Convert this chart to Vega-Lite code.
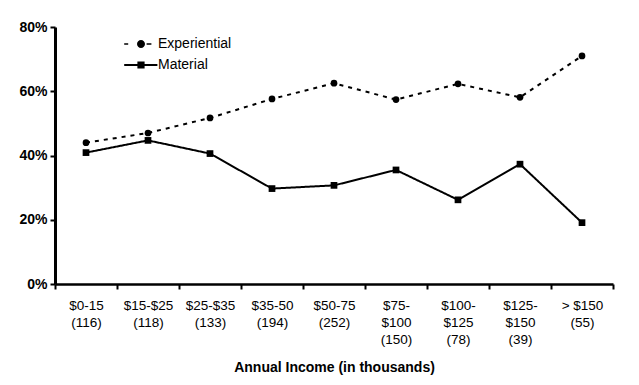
{
  "$schema": "https://vega.github.io/schema/vega-lite/v6.json",
  "width": 558,
  "height": 257,
  "autosize": "none",
  "padding": {"left": 55, "top": 27, "right": 26, "bottom": 101},
  "background": "white",
  "config": {
    "view": {"stroke": null},
    "font": "Liberation Sans",
    "axis": {"domainColor": "black", "tickColor": "black", "labelColor": "black", "titleColor": "black", "grid": false}
  },
  "data": {
    "values": [
      {"income": "$0-15|(116)", "series": "Experiential", "value": 0.44},
      {"income": "$15-$25|(118)", "series": "Experiential", "value": 0.47},
      {"income": "$25-$35|(133)", "series": "Experiential", "value": 0.517},
      {"income": "$35-50|(194)", "series": "Experiential", "value": 0.576},
      {"income": "$50-75|(252)", "series": "Experiential", "value": 0.625},
      {"income": "$75-|$100|(150)", "series": "Experiential", "value": 0.574},
      {"income": "$100-|$125|(78)", "series": "Experiential", "value": 0.623},
      {"income": "$125-|$150|(39)", "series": "Experiential", "value": 0.581},
      {"income": "> $150|(55)", "series": "Experiential", "value": 0.71},
      {"income": "$0-15|(116)", "series": "Material", "value": 0.409},
      {"income": "$15-$25|(118)", "series": "Material", "value": 0.447},
      {"income": "$25-$35|(133)", "series": "Material", "value": 0.406},
      {"income": "$35-50|(194)", "series": "Material", "value": 0.297},
      {"income": "$50-75|(252)", "series": "Material", "value": 0.307},
      {"income": "$75-|$100|(150)", "series": "Material", "value": 0.355},
      {"income": "$100-|$125|(78)", "series": "Material", "value": 0.262},
      {"income": "$125-|$150|(39)", "series": "Material", "value": 0.373},
      {"income": "> $150|(55)", "series": "Material", "value": 0.191}
    ]
  },
  "encoding": {
    "x": {
      "field": "income",
      "type": "nominal",
      "sort": null,
      "scale": {"paddingInner": 0, "paddingOuter": 0},
      "axis": {
        "title": "Annual Income (in thousands)",
        "titleFontSize": 14,
        "titleFontWeight": "bold",
        "titlePadding": 15,
        "labelAngle": 0,
        "labelExpr": "split(datum.label, '|')",
        "labelFontSize": 13.5,
        "labelLineHeight": 17,
        "labelPadding": 9,
        "labelBaseline": "top",
        "tickBand": "extent",
        "tickSize": 5,
        "tickWidth": 2,
        "domainWidth": 2.5
      }
    },
    "y": {
      "field": "value",
      "type": "quantitative",
      "scale": {"domain": [0, 0.8]},
      "axis": {
        "title": null,
        "values": [0, 0.2, 0.4, 0.6, 0.8],
        "format": ".0%",
        "labelFontSize": 14,
        "labelFontWeight": "bold",
        "labelPadding": 3,
        "tickSize": 5,
        "tickWidth": 2,
        "domainWidth": 3
      }
    }
  },
  "layer": [
    {
      "mark": {"type": "line", "color": "black", "strokeWidth": 2},
      "encoding": {
        "detail": {"field": "series"},
        "strokeDash": {
          "field": "series",
          "scale": {"domain": ["Experiential", "Material"], "range": [[4, 5], [1, 0]]},
          "legend": null
        }
      }
    },
    {
      "mark": {"type": "point", "filled": true, "color": "black", "opacity": 1, "size": 45},
      "encoding": {
        "shape": {
          "field": "series",
          "scale": {"domain": ["Experiential", "Material"], "range": ["circle", "square"]},
          "legend": null
        }
      }
    },
    {
      "mark": {"type": "point", "filled": true, "color": "black", "opacity": 0, "size": 64},
      "encoding": {
        "shape": {
          "field": "series",
          "scale": {
            "domain": ["Experiential", "Material"],
            "range": [
              "M-4.2,-0.2H-3.2V0.2H-4.2Z M-1,0A1,1 0 1,0 1,0A1,1 0 1,0 -1,0Z M1.4,-0.2H2.6V0.2H1.4Z",
              "M-4.2,-0.25H4.1V0.25H-4.2Z M-0.9,-0.9H0.9V0.9H-0.9Z"
            ]
          },
          "legend": {
            "title": null,
            "orient": "none",
            "legendX": 79,
            "legendY": 10,
            "padding": 0,
            "symbolSize": 64,
            "symbolOpacity": 1,
            "symbolFillColor": "black",
            "symbolStrokeWidth": 0,
            "labelFontSize": 14,
            "labelColor": "black",
            "labelOffset": 10,
            "rowPadding": 7
          }
        }
      }
    }
  ],
  "resolve": {"scale": {"shape": "independent"}}
}
